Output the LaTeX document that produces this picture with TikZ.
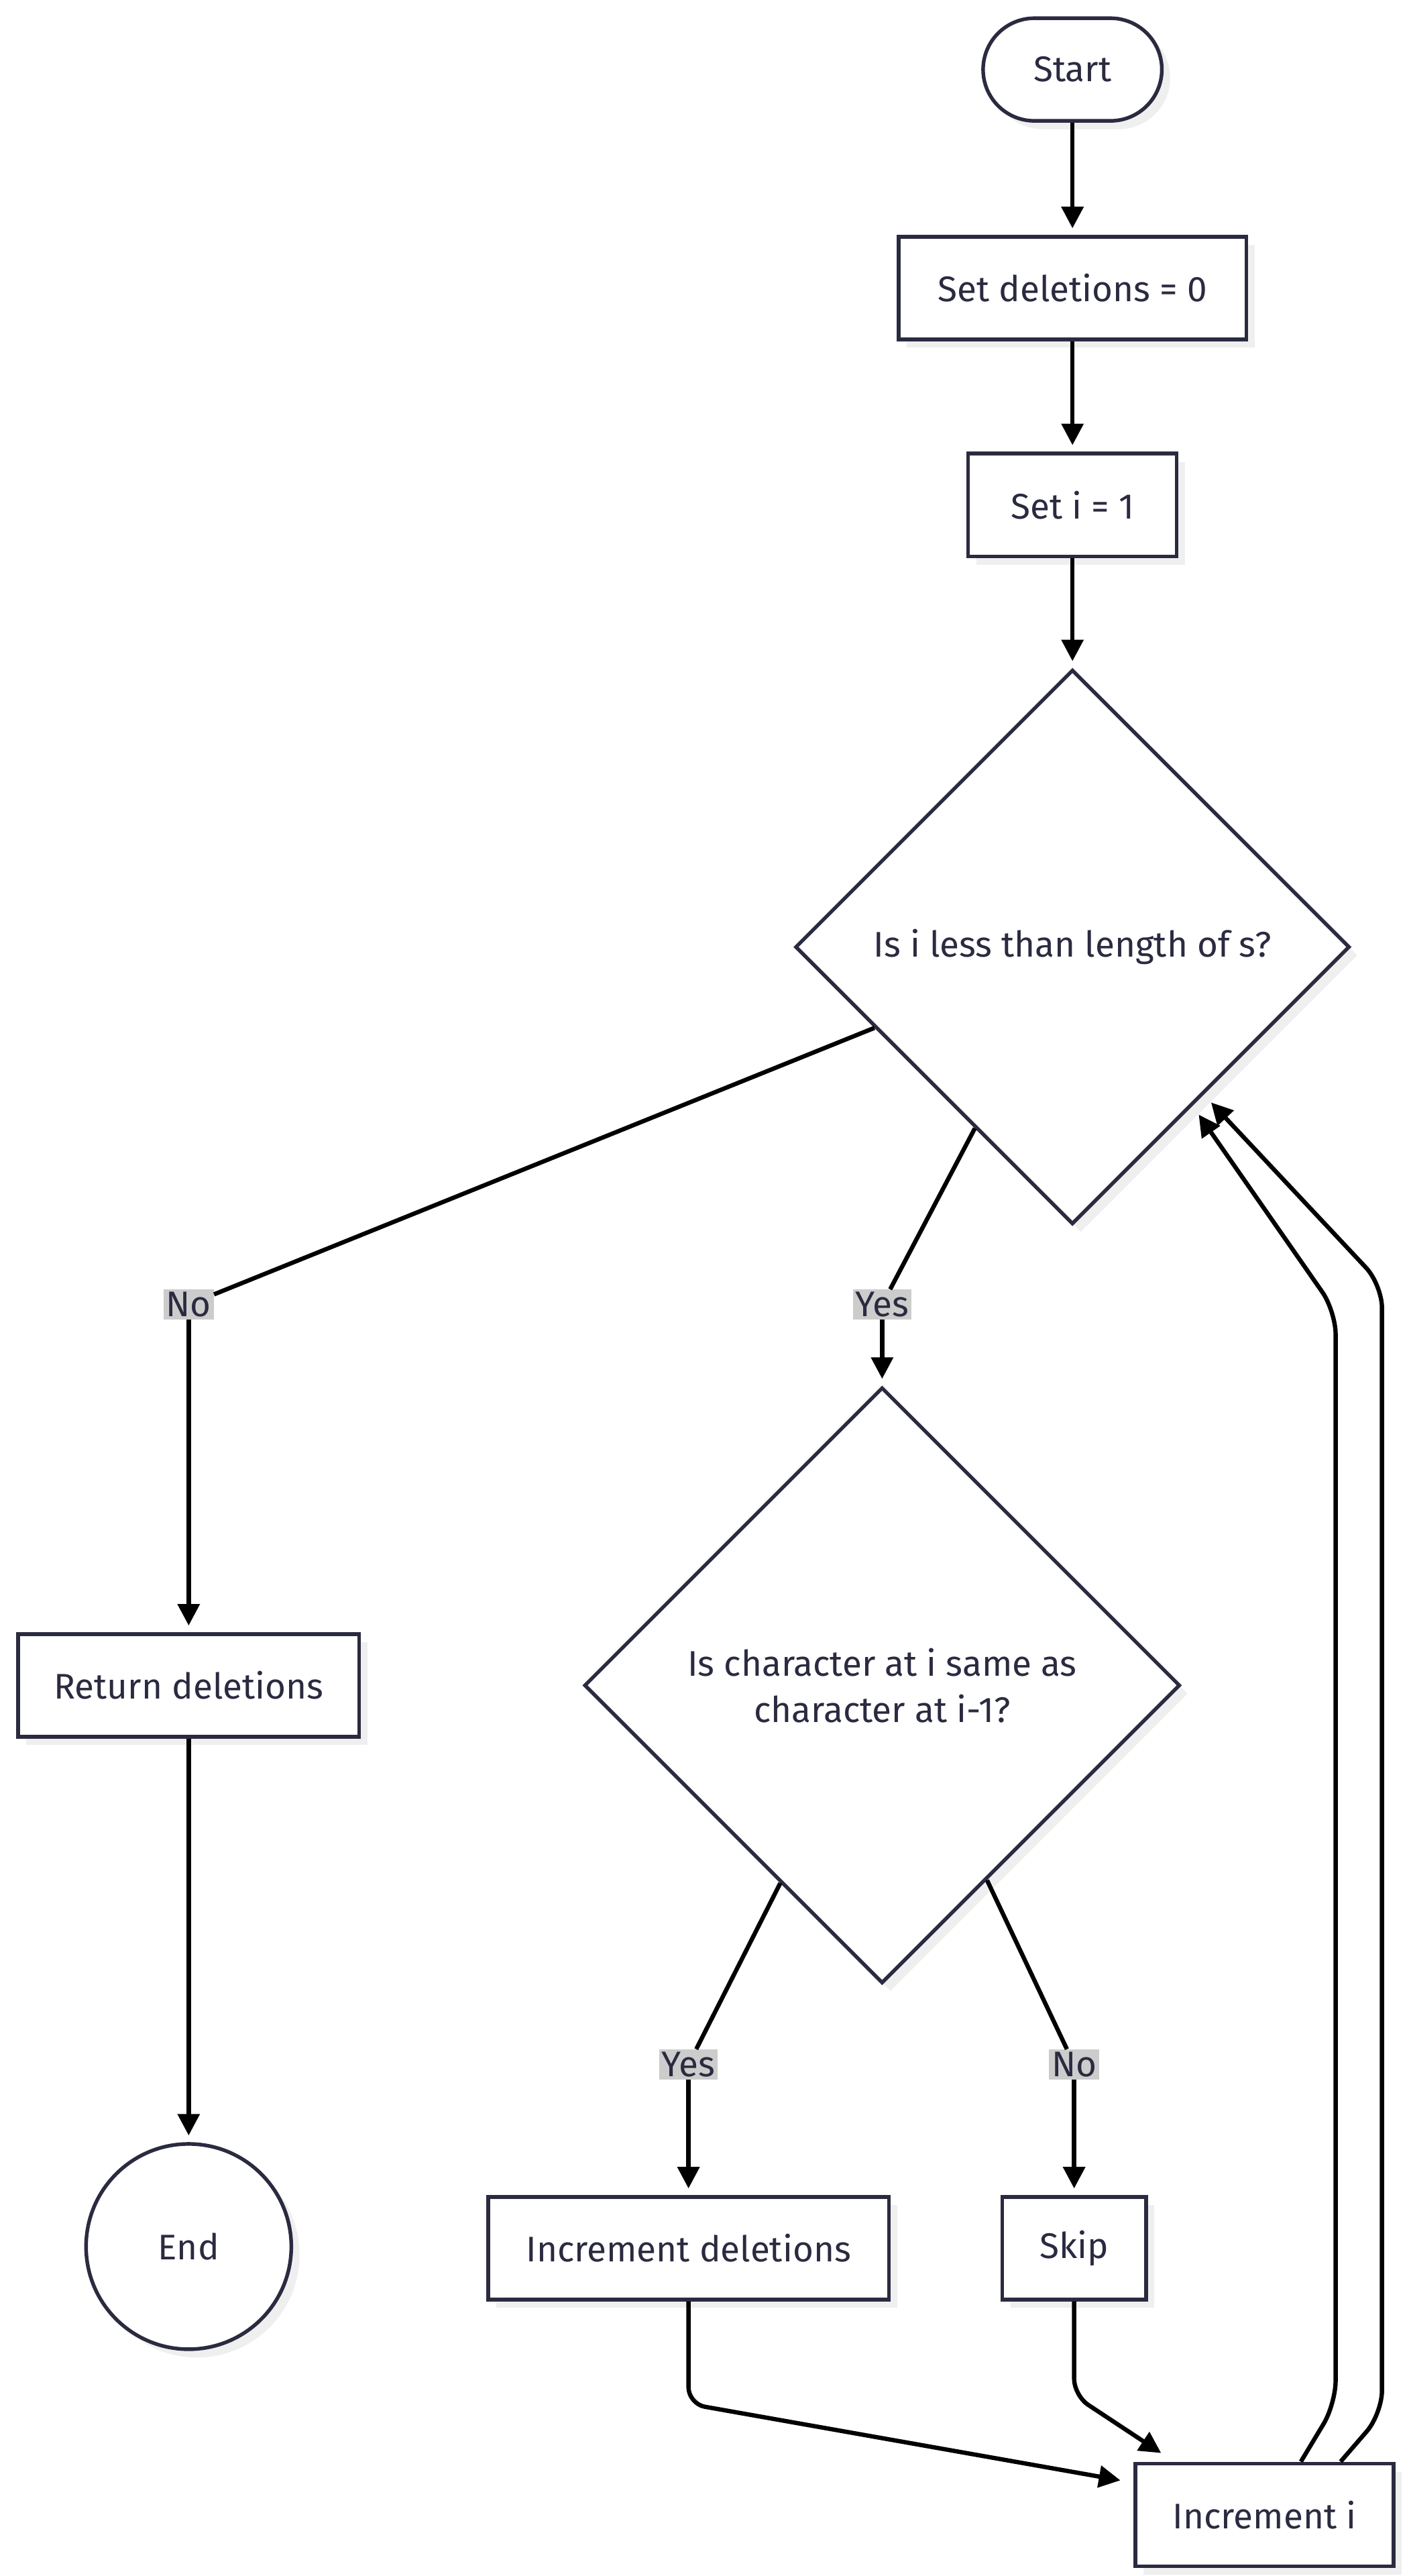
\documentclass[tikz,border=0pt]{standalone}
\usepackage{fontspec}
\setmainfont{Fira Sans}
\usetikzlibrary{arrows.meta}
\usetikzlibrary{shapes.geometric}
\usetikzlibrary{shadows}
\usetikzlibrary{calc}
\definecolor{ink}{HTML}{2A2A40}
\definecolor{shade}{HTML}{EFEFEF}
\definecolor{lblgray}{HTML}{CCCCCC}
\tikzset{
  shape box/.style={draw=ink, line width=2.2pt, fill=white, text=ink, inner sep=0pt,
    font=\fontsize{21.5pt}{28pt}\selectfont,
    general shadow={fill=shade, shadow xshift=5pt, shadow yshift=-5pt}},
  proc/.style={shape box, rectangle, minimum height=62pt, minimum width=#1},
  term/.style={shape box, rectangle, rounded corners=31pt, minimum height=62pt, minimum width=108pt},
  stopcircle/.style={shape box, circle, minimum size=124pt},
  decide/.style={shape box, diamond, align=center, minimum width=#1, minimum height=#1},
  lbl/.style={fill=lblgray, text=ink, inner sep=1.5pt, font=\fontsize{21.5pt}{26pt}\selectfont},
  edge/.style={line width=2.6pt, black},
  flow/.style={edge, -{Triangle[length=13pt,width=13pt]}, shorten >=4pt}
}
\begin{document}
\begin{tikzpicture}[x=1pt, y=-1pt]
  \fill[white] (0,0) rectangle (850,1556);

  \node[term] (start) at (648,42) {Start};
  \node[proc=210pt] (setdel) at (648,174) {Set deletions = 0};
  \node[proc=126pt] (seti) at (648,305) {Set i = 1};
  \node[decide=335pt] (cond1) at (648,572) {Is i less than length of s?};
  \node[proc=206pt] (ret) at (114,1018) {Return deletions};
  \node[decide=360pt] (cond2) at (533,1018) {Is character at i same as\\character at i-1?};
  \node[stopcircle] (end) at (114,1357) {End};
  \node[proc=242pt] (idel) at (416,1358) {Increment deletions};
  \node[proc=87pt] (skip) at (649,1358) {Skip};
  \node[proc=156pt] (inci) at (764,1519) {Increment i};

  \node[lbl] (lno1) at (114,788) {No};
  \node[lbl] (lyes1) at (533,788) {Yes};
  \node[lbl] (lyes2) at (416,1247) {Yes};
  \node[lbl] (lno2) at (649,1247) {No};

  \coordinate (c1no) at ($(cond1.west)!0.29!(cond1.south)$);
  \coordinate (c1yes) at ($(cond1.west)!0.65!(cond1.south)$);
  \coordinate (c2yes) at ($(cond2.west)!0.66!(cond2.south)$);
  \coordinate (c2no) at ($(cond2.south)!0.35!(cond2.east)$);
  \coordinate (inwest) at ($(inci.north west)+(-4,12)$);
  \coordinate (intop) at ($(inci.north west)+(20,-3)$);
  \coordinate (outa) at ($(inci.north)+(22,0)$);
  \coordinate (outb) at ($(inci.north)+(46,0)$);
  \coordinate (loopa) at (722,670);
  \coordinate (loopb) at (729,663);

  \draw[flow] (start) -- (setdel);
  \draw[flow] (setdel) -- (seti);
  \draw[flow] (seti) -- (cond1);

  \draw[edge] (c1no) -- (lno1);
  \draw[flow] (lno1) -- (ret);
  \draw[edge] (c1yes) -- (lyes1);
  \draw[flow] (lyes1) -- (cond2);
  \draw[flow] (ret) -- (end);

  \draw[edge] (c2yes) -- (lyes2);
  \draw[flow] (lyes2) -- (idel);
  \draw[edge] (c2no) -- (lno2);
  \draw[flow] (lno2) -- (skip);

  \draw[flow, rounded corners=10pt] (idel.south) -- (416,1452) -- (inwest);
  \draw[flow, rounded corners=10pt] (skip.south) -- (649,1447) -- (intop);
  \draw[flow, rounded corners=14pt] (outa) -- (807,1452) -- (807,792) -- (loopa);
  \draw[flow, rounded corners=14pt] (outb) -- (835,1458) -- (835,776) -- (loopb);
\end{tikzpicture}
\end{document}
